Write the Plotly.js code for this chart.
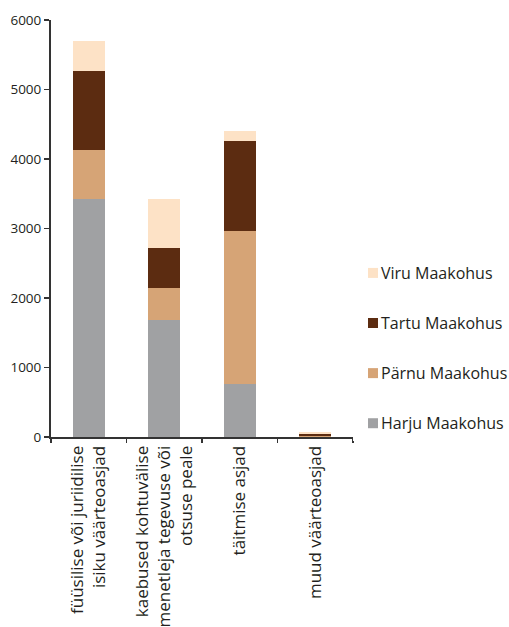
<!DOCTYPE html>
<html>
<head>
<meta charset="utf-8">
<script src="https://cdn.plot.ly/plotly-3.0.1.min.js"></script>
<style>html,body{margin:0;padding:0;background:#fff;}#chart{width:509px;height:627px;}</style>
</head>
<body>
<div id="chart"></div>
<script>
const categories = [
  "füüsilise või juriidilise<br>isiku väärteoasjad",
  "kaebused kohtuvälise<br>menetleja tegevuse või<br>otsuse peale",
  "täitmise asjad",
  "muud väärteoasjad"
];
const seriesNames = ["Harju Maakohus", "Pärnu Maakohus", "Tartu Maakohus", "Viru Maakohus"];
const harju = [3430, 1680, 760, 5];
const parnu = [700, 470, 2210, 5];
const tartu = [1130, 570, 1290, 35];
const viru = [440, 710, 145, 20];
const yTicks = [0, 1000, 2000, 3000, 4000, 5000, 6000];
const colors = ["#a0a1a3", "#d6a476", "#5c2c11", "#fde2c6"];

const values = [harju, parnu, tartu, viru];
const traces = values.map((v, i) => ({
  type: "bar",
  name: seriesNames[i],
  x: categories,
  y: v,
  marker: {color: colors[i], line: {width: 0}},
  legendgroup: "g" + i,
  legendrank: 10 - i,
  hoverinfo: "none"
}));

const font = "'Open Sans', Lato, sans-serif";
const layout = {
  width: 509,
  height: 627,
  barmode: "stack",
  bargap: 0.576,
  margin: {l: 51, r: 156, t: 20, b: 190, autoexpand: false},
  paper_bgcolor: "#fff",
  plot_bgcolor: "#fff",
  font: {family: font, size: 14, color: "#231f20"},
  showlegend: true,
  legend: {
    x: 1.0, xanchor: "left",
    y: 0.434, yanchor: "top",
    traceorder: "grouped",
    tracegroupgap: 26.3,
    font: {family: font, size: 16, color: "#231f20"},
    itemwidth: 30
  },
  xaxis: {
    type: "category",
    tickangle: -90,
    tickson: "boundaries",
    ticks: "outside",
    ticklen: 4,
    tickwidth: 1.5,
    tickcolor: "#333",
    showline: true,
    linecolor: "#333",
    linewidth: 2,
    showgrid: false,
    tickfont: {family: font, size: 17, color: "#231f20"}
  },
  yaxis: {
    range: [0, 6000],
    tickvals: yTicks,
    ticktext: yTicks.map(String),
    ticks: "outside",
    ticklen: 5,
    tickwidth: 1.5,
    tickcolor: "#333",
    showline: true,
    linecolor: "#333",
    linewidth: 2,
    showgrid: false,
    zeroline: false,
    tickfont: {family: font, size: 13.5, color: "#231f20"}
  }
};

Plotly.newPlot("chart", traces, layout, {displayModeBar: false, staticPlot: true}).then(() => {
  document.querySelectorAll("#chart .legend .legendtext").forEach(t => t.setAttribute("x", 28));
  document.querySelectorAll("#chart .legend .legendpoints path").forEach(p => p.setAttribute("d", "M5,5H-5V-5H5Z"));
});
</script>
</body>
</html>
